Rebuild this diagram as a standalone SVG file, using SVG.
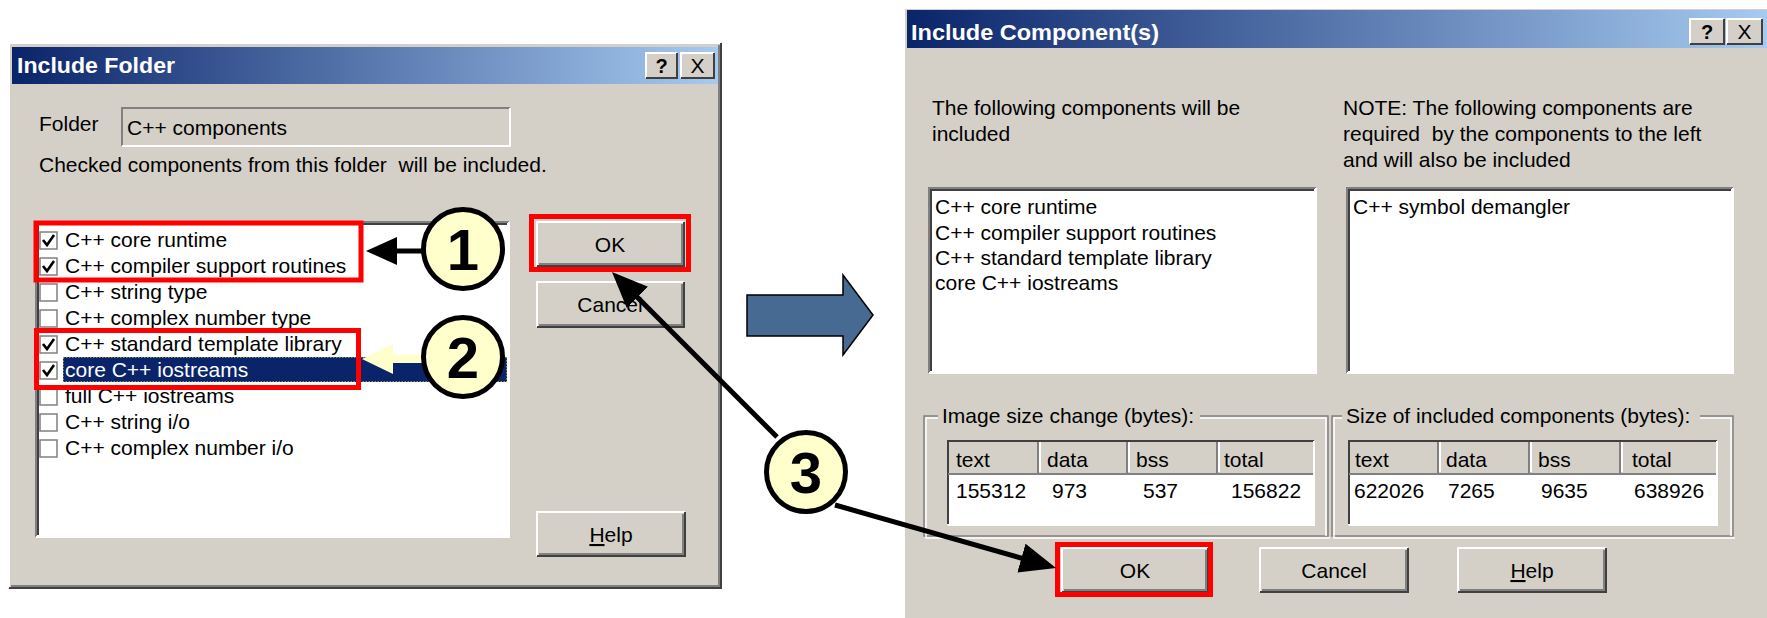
<svg xmlns="http://www.w3.org/2000/svg" width="1767" height="618" viewBox="0 0 1767 618">
<defs>
<linearGradient id="tb" x1="0" y1="0" x2="1" y2="0">
<stop offset="0" stop-color="#0A246A"/>
<stop offset="1" stop-color="#A6CAF0"/>
</linearGradient>
<marker id="ah" markerUnits="userSpaceOnUse" markerWidth="40" markerHeight="32" refX="16" refY="15" orient="auto">
<path d="M0,0 L36,15 L0,30 Z" fill="#000"/>
</marker>
<style>
text{font-family:"Liberation Sans",Arial,sans-serif;font-size:21px;fill:#000}
.face{fill:#D4D0C8}
.hl{fill:none;stroke:#FFFFFF;stroke-width:2}
.sh{fill:none;stroke:#808080;stroke-width:2}
.dk{fill:none;stroke:#404040;stroke-width:2}
.white{fill:#FFFFFF}
.title{font-weight:bold;font-size:22px;fill:#FFFFFF}
.btn{text-anchor:middle}
.red{fill:none;stroke:#FF0000;stroke-width:5}
.num{fill:#FFFFCC;stroke:#000;stroke-width:5}
.numt{font-weight:bold;font-size:58px;text-anchor:middle}
.cb{fill:#FFFFFF;stroke:#808080;stroke-width:1.5}
.chk{fill:none;stroke:#000;stroke-width:2.6}
.conn{fill:none;stroke:#000;stroke-width:5}
.etch1{fill:none;stroke:#808080;stroke-width:1.5}
.etch2{fill:none;stroke:#FFFFFF;stroke-width:1.5}
</style>
</defs>
<rect width="1767" height="618" fill="#FFFFFF"/>

<!-- Left dialog -->
<g id="include-folder-dialog">
<rect x="8" y="42" width="714" height="547" class="face"/>
<path d="M9,588 V43 H721" class="hl"/>
<path d="M721,43 V588 H9" class="dk"/>
<path d="M719,45 V586 H11" class="sh"/>
<rect x="12" y="47" width="706" height="37" fill="url(#tb)"/>
<text x="17" y="73" class="title" textLength="158" lengthAdjust="spacingAndGlyphs">Include Folder</text>
<g id="lf-help-btn">
<rect x="646" y="53" width="31" height="25" class="face"/>
<path d="M646,78 V53 H677" class="hl"/><path d="M677,53 V78 H646" class="dk"/>
<text x="661.5" y="73" class="btn" style="font-weight:bold;font-size:20px">?</text>
</g>
<g id="lf-close-btn">
<rect x="681" y="53" width="33" height="25" class="face"/>
<path d="M681,78 V53 H714" class="hl"/><path d="M714,53 V78 H681" class="dk"/>
<text x="697.5" y="73" class="btn" style="font-size:21px">X</text>
</g>
<text x="39" y="131">Folder</text>
<g id="folder-field">
<rect x="122" y="108" width="388" height="38" class="face"/>
<path d="M122,146 V108 H510" class="sh"/>
<path d="M510,108 V146 H122" class="hl"/>
<text x="127" y="135">C++ components</text>
</g>
<text x="39" y="172" xml:space="preserve">Checked components from this folder  will be included.</text>
<g id="component-list">
<rect x="35" y="221" width="474" height="316" class="white"/>
<path d="M36,537 V222 H509" class="sh"/>
<path d="M38,535 V224 H507" class="dk"/>
<path d="M509,222 V537 H36" class="hl"/>
<rect x="63" y="357" width="444" height="25" fill="#0A246A" stroke="#FFFF99" stroke-width="1" stroke-dasharray="1.5,1.5"/>
<rect x="40" y="232" width="17" height="17" class="cb"/><path d="M43,240 L47,245 L54,235" class="chk"/>
<text x="65" y="247">C++ core runtime</text>
<rect x="40" y="258" width="17" height="17" class="cb"/><path d="M43,266 L47,271 L54,261" class="chk"/>
<text x="65" y="273">C++ compiler support routines</text>
<rect x="40" y="284" width="17" height="17" class="cb"/>
<text x="65" y="299">C++ string type</text>
<rect x="40" y="310" width="17" height="17" class="cb"/>
<text x="65" y="325">C++ complex number type</text>
<rect x="40" y="336" width="17" height="17" class="cb"/><path d="M43,344 L47,349 L54,339" class="chk"/>
<text x="65" y="351">C++ standard template library</text>
<rect x="40" y="362" width="17" height="17" class="cb"/><path d="M43,370 L47,375 L54,365" class="chk"/>
<text x="65" y="377" style="fill:#FFFFFF">core C++ iostreams</text>
<rect x="40" y="388" width="17" height="17" class="cb"/>
<text x="65" y="403">full C++ iostreams</text>
<rect x="40" y="414" width="17" height="17" class="cb"/>
<text x="65" y="429">C++ string i/o</text>
<rect x="40" y="440" width="17" height="17" class="cb"/>
<text x="65" y="455">C++ complex number i/o</text>
</g>
<g id="lf-ok-btn">
<rect x="537" y="222" width="147" height="44" class="face"/>
<path d="M537,266 V222 H684" class="hl"/><path d="M684,222 V266 H537" class="dk"/><path d="M682,224 V264 H539" class="sh"/>
<text x="610" y="252" class="btn">OK</text>
</g>
<g id="lf-cancel-btn">
<rect x="537" y="282" width="147" height="45" class="face"/>
<path d="M537,327 V282 H684" class="hl"/><path d="M684,282 V327 H537" class="dk"/><path d="M682,284 V325 H539" class="sh"/>
<text x="610" y="312" class="btn">Cancel</text>
</g>
<g id="lf-help-button">
<rect x="537" y="512" width="148" height="44" class="face"/>
<path d="M537,556 V512 H685" class="hl"/><path d="M685,512 V556 H537" class="dk"/><path d="M683,514 V554 H539" class="sh"/>
<text x="611" y="542" class="btn"><tspan text-decoration="underline">H</tspan>elp</text>
</g>
</g>

<!-- Right dialog -->
<g id="include-components-dialog">
<rect x="903" y="7" width="864" height="611" class="face"/>
<path d="M904,618 V8 H1767" class="hl"/>
<rect x="907" y="10" width="860" height="38" fill="url(#tb)"/>
<text x="911" y="40" class="title" textLength="248" lengthAdjust="spacingAndGlyphs">Include Component(s)</text>
<g id="ic-help-btn">
<rect x="1690" y="19" width="34" height="25" class="face"/>
<path d="M1690,44 V19 H1724" class="hl"/><path d="M1724,19 V44 H1690" class="dk"/>
<text x="1707" y="39" class="btn" style="font-weight:bold;font-size:20px">?</text>
</g>
<g id="ic-close-btn">
<rect x="1727" y="19" width="35" height="25" class="face"/>
<path d="M1727,44 V19 H1762" class="hl"/><path d="M1762,19 V44 H1727" class="dk"/>
<text x="1744.5" y="39" class="btn" style="font-size:21px">X</text>
</g>
<text x="932" y="115">The following components will be</text>
<text x="932" y="141">included</text>
<text x="1343" y="115">NOTE: The following components are</text>
<text x="1343" y="141" xml:space="preserve">required  by the components to the left</text>
<text x="1343" y="167">and will also be included</text>
<g id="included-list">
<rect x="928" y="187" width="388" height="186" class="white"/>
<path d="M929,373 V188 H1316" class="sh"/><path d="M931,371 V190 H1314" class="dk"/><path d="M1316,188 V373 H929" class="hl"/>
<text x="935" y="214">C++ core runtime</text>
<text x="935" y="240">C++ compiler support routines</text>
<text x="935" y="265">C++ standard template library</text>
<text x="935" y="290">core C++ iostreams</text>
</g>
<g id="required-list">
<rect x="1346" y="187" width="387" height="186" class="white"/>
<path d="M1347,373 V188 H1733" class="sh"/><path d="M1349,371 V190 H1731" class="dk"/><path d="M1733,188 V373 H1347" class="hl"/>
<text x="1353" y="214">C++ symbol demangler</text>
</g>
<g id="image-size-group">
<path d="M938,416 H924 V536 H1328 V416 H1200" class="etch1"/>
<path d="M938,418 H926 V538 H1330 M1326,536 V418 H1200" class="etch2"/>
<text x="942" y="423">Image size change (bytes):</text>
<rect x="947" y="440" width="367" height="85" class="white"/>
<rect x="948" y="441" width="365" height="33" class="face"/>
<path d="M948,524 V441 H1314" class="dk"/><path d="M1314,441 V525 H948" class="hl"/>
<path d="M948,474 H1313 M1038,442 V474 M1127,442 V474 M1217,442 V474" class="sh"/>
<path d="M1040,442 V472 M1129,442 V472 M1219,442 V472" class="hl"/>
<text x="956" y="467">text</text>
<text x="1047" y="467">data</text>
<text x="1136" y="467">bss</text>
<text x="1224" y="467">total</text>
<text x="956" y="498">155312</text>
<text x="1052" y="498">973</text>
<text x="1143" y="498">537</text>
<text x="1231" y="498">156822</text>
</g>
<g id="included-size-group">
<path d="M1342,416 H1332 V536 H1733 V416 H1700" class="etch1"/>
<path d="M1342,418 H1334 V538 H1735 M1731,536 V418 H1700" class="etch2"/>
<text x="1346" y="423">Size of included components (bytes):</text>
<rect x="1348" y="440" width="369" height="85" class="white"/>
<rect x="1349" y="441" width="367" height="33" class="face"/>
<path d="M1349,524 V441 H1717" class="dk"/><path d="M1717,441 V525 H1349" class="hl"/>
<path d="M1349,474 H1716 M1438,442 V474 M1529,442 V474 M1620,442 V474" class="sh"/>
<path d="M1440,442 V472 M1531,442 V472 M1622,442 V472" class="hl"/>
<text x="1355" y="467">text</text>
<text x="1446" y="467">data</text>
<text x="1538" y="467">bss</text>
<text x="1632" y="467">total</text>
<text x="1354" y="498">622026</text>
<text x="1448" y="498">7265</text>
<text x="1541" y="498">9635</text>
<text x="1634" y="498">638926</text>
</g>
<g id="ic-ok-btn">
<rect x="1062" y="548" width="146" height="44" class="face"/>
<path d="M1062,592 V548 H1208" class="hl"/><path d="M1208,548 V592 H1062" class="dk"/><path d="M1206,550 V590 H1064" class="sh"/>
<text x="1135" y="578" class="btn">OK</text>
</g>
<g id="ic-cancel-btn">
<rect x="1260" y="548" width="148" height="44" class="face"/>
<path d="M1260,592 V548 H1408" class="hl"/><path d="M1408,548 V592 H1260" class="dk"/><path d="M1406,550 V590 H1262" class="sh"/>
<text x="1334" y="578" class="btn">Cancel</text>
</g>
<g id="ic-help-btn-bottom">
<rect x="1458" y="548" width="148" height="44" class="face"/>
<path d="M1458,592 V548 H1606" class="hl"/><path d="M1606,548 V592 H1458" class="dk"/><path d="M1604,550 V590 H1460" class="sh"/>
<text x="1532" y="578" class="btn"><tspan text-decoration="underline">H</tspan>elp</text>
</g>
</g>

<!-- Highlights -->
<g id="highlights">
<rect x="36" y="223" width="325" height="57" class="red"/>
<rect x="36.5" y="330.5" width="322" height="57" class="red"/>
<rect x="531.5" y="216.5" width="157" height="53" class="red"/>
<rect x="1057.5" y="544.5" width="153" height="50" class="red"/>
</g>

<!-- Connectors -->
<g id="connectors">
<polygon points="366,251 397,237 397,248.5 425,248.5 425,253.5 397,253.5 397,265" fill="#000"/>
<polygon points="362,359 393,344 393,355 425,355 425,363 393,363 393,374" fill="#FFFFCC"/>
<line x1="777" y1="437" x2="626.1" y2="286.1" class="conn" marker-end="url(#ah)"/>
<line x1="835" y1="505" x2="1036.8" y2="562.5" class="conn" marker-end="url(#ah)"/>
<polygon points="747,295 843,295 843,275 873,315 843,355 843,336 747,336" fill="#466A92" stroke="#000" stroke-width="1.5"/>
</g>

<g id="step-1"><circle cx="463" cy="249" r="39.5" class="num"/><text x="463" y="270" class="numt">1</text></g>
<g id="step-2"><circle cx="463" cy="357" r="39.5" class="num"/><text x="463" y="378" class="numt">2</text></g>
<g id="step-3"><circle cx="806" cy="472" r="39.5" class="num"/><text x="806" y="493" class="numt">3</text></g>
</svg>
